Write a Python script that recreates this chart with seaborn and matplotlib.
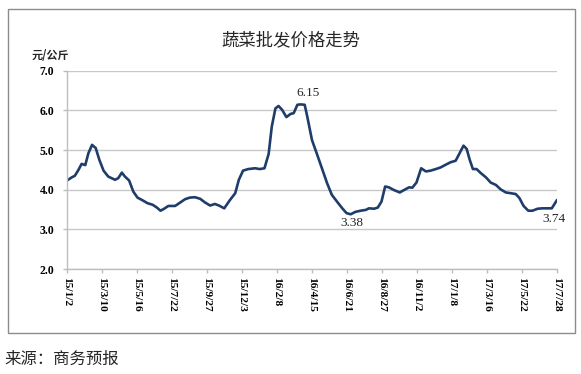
import pandas as pd
import numpy as np
import matplotlib
matplotlib.use("Agg")
import matplotlib.pyplot as plt
import matplotlib.dates as mdates
from matplotlib.patches import Rectangle
import seaborn as sns

# ---- data ----
dates = [
    "2015-01-02", "2015-01-11", "2015-01-17", "2015-01-24", "2015-01-30", "2015-02-06",
    "2015-02-12", "2015-02-19", "2015-02-26", "2015-03-05", "2015-03-13", "2015-03-22",
    "2015-04-04", "2015-04-10", "2015-04-17", "2015-04-23", "2015-05-01", "2015-05-09",
    "2015-05-17", "2015-05-27", "2015-06-05", "2015-06-15", "2015-06-23", "2015-06-30",
    "2015-07-07", "2015-07-15", "2015-07-28", "2015-08-06", "2015-08-16", "2015-08-25",
    "2015-09-04", "2015-09-14", "2015-09-23", "2015-10-03", "2015-10-12", "2015-10-20",
    "2015-10-30", "2015-11-10", "2015-11-20", "2015-11-27", "2015-12-05", "2015-12-15",
    "2015-12-28", "2016-01-06", "2016-01-15", "2016-01-23", "2016-01-29", "2016-02-05",
    "2016-02-11", "2016-02-18", "2016-02-26", "2016-03-05", "2016-03-11", "2016-03-18",
    "2016-03-24", "2016-04-01", "2016-04-06", "2016-04-15", "2016-04-25", "2016-05-04",
    "2016-05-14", "2016-05-23", "2016-06-03", "2016-06-12", "2016-06-20", "2016-06-28",
    "2016-07-07", "2016-07-17", "2016-07-27", "2016-08-02", "2016-08-12", "2016-08-19",
    "2016-08-26", "2016-09-02", "2016-09-09", "2016-09-19", "2016-09-30", "2016-10-08",
    "2016-10-18", "2016-10-24", "2016-11-01", "2016-11-10", "2016-11-19", "2016-11-28",
    "2016-12-08", "2016-12-17", "2016-12-27", "2017-01-05", "2017-01-15", "2017-01-21",
    "2017-01-30", "2017-02-05", "2017-02-11", "2017-02-17", "2017-02-24", "2017-03-04",
    "2017-03-14", "2017-03-23", "2017-04-02", "2017-04-11", "2017-04-21", "2017-05-01",
    "2017-05-10", "2017-05-17", "2017-05-25", "2017-06-03", "2017-06-11", "2017-06-21",
    "2017-06-30", "2017-07-10", "2017-07-18", "2017-07-28",
]
prices = [
    4.23, 4.31, 4.35, 4.50, 4.65, 4.62,
    4.92, 5.13, 5.05, 4.75, 4.48, 4.33,
    4.25, 4.29, 4.43, 4.33, 4.23, 3.95,
    3.80, 3.73, 3.66, 3.62, 3.55, 3.47,
    3.52, 3.59, 3.59, 3.67, 3.76, 3.80,
    3.81, 3.77, 3.68, 3.60, 3.64, 3.60,
    3.53, 3.74, 3.91, 4.25, 4.48, 4.52,
    4.54, 4.52, 4.54, 4.90, 5.59, 6.05,
    6.11, 6.01, 5.83, 5.91, 5.93, 6.14,
    6.15, 6.14, 5.84, 5.25, 4.88, 4.54,
    4.16, 3.87, 3.68, 3.53, 3.41, 3.38,
    3.44, 3.47, 3.49, 3.53, 3.52, 3.55,
    3.70, 4.08, 4.06, 3.99, 3.93, 3.99,
    4.06, 4.05, 4.18, 4.54, 4.46, 4.48,
    4.52, 4.56, 4.63, 4.69, 4.73, 4.88,
    5.11, 5.03, 4.75, 4.52, 4.52, 4.42,
    4.31, 4.18, 4.12, 4.01, 3.93, 3.91,
    3.89, 3.79, 3.59, 3.47, 3.47, 3.52,
    3.53, 3.53, 3.53, 3.74,
]
tick_labels = ["15/1/2", "15/3/10", "15/5/16", "15/7/22", "15/9/27", "15/12/3", "16/2/8",
               "16/4/15", "16/6/21", "16/8/27", "16/11/2", "17/1/8", "17/3/16", "17/5/22",
               "17/7/28"]
y_ticks = [2.0, 3.0, 4.0, 5.0, 6.0, 7.0]
annot_dates = ["2016-03-24", "2016-06-28", "2017-07-28"]
annot_vals = [6.15, 3.38, 3.74]

title = "蔬菜批发价格走势"
unit = "元/公斤"
source = "来源：商务预报"

# ---- figure ----
df = pd.DataFrame({"date": pd.to_datetime(dates), "price": prices})
tick_dates = pd.to_datetime(["20" + t for t in tick_labels], format="%Y/%m/%d")

sns.set_theme(style="white")
plt.rcParams["font.family"] = ["Liberation Serif", "DejaVu Sans"]

fig = plt.figure(figsize=(5.81, 3.74), dpi=100)
ax = fig.add_axes([0.1153, 0.2807, 0.8434, 0.5303])

sns.lineplot(data=df, x="date", y="price", ax=ax, color="#1F3D6B", linewidth=1.9)

ax.set_xlim(tick_dates[0], tick_dates[-1])
ax.set_ylim(2.0, 7.0)
ax.set_yticks(y_ticks)
ax.set_yticklabels([f"{v:.1f}" for v in y_ticks], fontweight="bold", fontsize=8.5,
                   family="Liberation Serif")
ax.set_xticks(tick_dates)
ax.set_xticklabels(tick_labels, rotation=-90, fontweight="bold", fontsize=8.2,
                   family="Liberation Serif", va="top", ha="center")
ax.set_xlabel("")
ax.set_ylabel("")

ax.yaxis.grid(True, color="#c8c8c8", linewidth=1.0)
ax.xaxis.grid(False)
for s in ["top", "right"]:
    ax.spines[s].set_visible(False)
ax.spines["left"].set_color("#bdbdbd")
ax.spines["bottom"].set_color("#bdbdbd")
ax.spines["left"].set_linewidth(1.0)
ax.spines["bottom"].set_linewidth(1.0)
ax.tick_params(axis="y", direction="out", length=3, width=1, color="#bdbdbd", pad=6,
               left=True, labelcolor="black")
ax.tick_params(axis="x", direction="out", length=3, width=1, color="#bdbdbd", pad=3,
               bottom=True, labelcolor="black")

# annotations
offsets = [(7, 11), (1, -9), (-3, -19)]
for d, v, off in zip(annot_dates, annot_vals, offsets):
    ax.annotate(f"{v:.2f}", xy=(pd.Timestamp(d), v), xytext=off, textcoords="offset pixels",
                ha="center", va="center", fontsize=9.5, family="Liberation Serif")

fig.text(0.5, 0.893, title, ha="center", va="center", fontsize=12.5,
         family=["Noto Sans CJK SC", "DejaVu Sans"])
fig.text(0.054, 0.852, unit, ha="left", va="center", fontsize=8, fontweight="bold",
         family=["Noto Sans CJK SC", "DejaVu Sans"])
fig.text(0.008, 0.038, source, ha="left", va="center", fontsize=11.8,
         family=["Noto Sans CJK SC", "DejaVu Sans"])

fig.patches.append(Rectangle((8 / 581, 1 - 333 / 374), (575 - 8) / 581, (333 - 9) / 374,
                             transform=fig.transFigure, fill=False, edgecolor="#8c8c8c",
                             linewidth=1.0))

fig.savefig("out.png", dpi=100, facecolor="white")
